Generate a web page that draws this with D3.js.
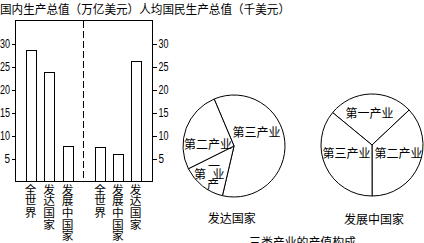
<!DOCTYPE html>
<html><head><meta charset="utf-8">
<script src="https://cdn.jsdelivr.net/npm/d3@7"></script>
<style>
html,body{margin:0;padding:0;background:#fff;}
svg{display:block;}
text{fill:#000;}
</style></head>
<body>
<svg id="c" width="424" height="243"></svg>
<script>
// ---- data ----
const titleText = "国内生产总值（万亿美元）人均国民生产总值（千美元）";
const leftCats = ["全世界", "发达国家", "发展中国家"];
const gdpValues = [28.6, 23.7, 7.7];          // 万亿美元
const rightCats = ["全世界", "发展中国家", "发达国家"];
const gnpPerCapita = [7.4, 5.9, 26.2];        // 千美元
const yTicks = [5, 10, 15, 20, 25, 30];

const sectors = ["第一产业", "第二产业", "第三产业"];
const developedShares = [14, 26, 60];
const developingShares = [27, 37, 36];
const pieCaptions = ["发达国家", "发展中国家"];
const bottomCaption = "三类产业的产值构成";

// ---- drawing ----
const svg = d3.select("#c");
const CJK = "'Noto Sans CJK SC','Noto Sans CJK JP',sans-serif";

svg.append("text").attr("x", 0).attr("y", 8)
  .attr("dominant-baseline", "central")
  .attr("font-family", CJK).attr("font-size", 12)
  .attr("textLength", 290).attr("lengthAdjust", "spacingAndGlyphs")
  .text(titleText);

const frameL = 15.5, frameR = 152.5, frameT = 20.5, frameB = 181.5;
const y = d3.scaleLinear().domain([0, 35]).range([frameB, frameT]);

const g = svg.append("g");

// frame
g.append("rect").attr("x", frameL).attr("y", frameT)
  .attr("width", frameR - frameL).attr("height", frameB - frameT)
  .attr("fill", "none").attr("stroke", "#000").attr("shape-rendering", "crispEdges");

// dashed divider
const xMid = 83.5;
g.append("line").attr("x1", xMid).attr("x2", xMid).attr("y1", frameT).attr("y2", frameB)
  .attr("stroke", "#000").attr("stroke-dasharray", "7,3").attr("shape-rendering", "crispEdges");

// axes
const axL = d3.axisLeft(y).tickValues(yTicks).tickSize(4).tickPadding(1.5);
const axR = d3.axisRight(y).tickValues(yTicks).tickSize(4).tickPadding(2);
const gL = g.append("g").attr("transform", `translate(${frameL},0)`).call(axL);
const gR = g.append("g").attr("transform", `translate(${frameR},0)`).call(axR);
[gL, gR].forEach(a => {
  a.select(".domain").remove();
  a.selectAll("line").attr("shape-rendering", "crispEdges");
  a.selectAll("text").attr("font-family", "'Liberation Sans',sans-serif").attr("font-size", 12)
    .attr("fill", "#000")
    .attr("textLength", d => d >= 10 ? 10 : 5.5).attr("lengthAdjust", "spacingAndGlyphs");
});

const xLeft = d3.scalePoint().domain(leftCats).range([30.5, 67.5]);
const xRight = d3.scalePoint().domain(rightCats).range([100, 135.5]);
const bw = 10;

function drawBars(cats, vals, xs) {
  g.selectAll(null).data(cats).enter().append("rect")
    .attr("x", d => Math.round(xs(d) - bw / 2) + 0.5)
    .attr("y", (d, i) => Math.round(y(vals[i])) + 0.5)
    .attr("width", bw)
    .attr("height", (d, i) => frameB - (Math.round(y(vals[i])) + 0.5))
    .attr("fill", "#fff").attr("stroke", "#000").attr("shape-rendering", "crispEdges");
  // vertical labels
  g.selectAll(null).data(cats).enter().append("text")
    .attr("x", d => xs(d)).attr("y", 183.3)
    .attr("writing-mode", "tb")
    .style("text-orientation", "upright")
    .attr("font-family", CJK).attr("font-size", 11.7)
    .text(d => d);
}
drawBars(leftCats, gdpValues, xLeft);
drawBars(rightCats, gnpPerCapita, xRight);

// ---- pies ----
const r = 51;
const arc = d3.arc().innerRadius(0).outerRadius(r);
function drawPie(cx, cy, shares, order, startDeg) {
  const pie = d3.pie().sort(null).value(d => d.v)
    .startAngle(startDeg * Math.PI / 180).endAngle(startDeg * Math.PI / 180 + 2 * Math.PI);
  const data = order.map(i => ({ name: sectors[i], v: shares[i] }));
  const pg = svg.append("g").attr("transform", `translate(${cx},${cy})`);
  pg.selectAll("path").data(pie(data)).enter().append("path")
    .attr("d", arc).attr("fill", "#fff").attr("stroke", "#000").attr("stroke-width", 1);
  return pg;
}
// developed: clockwise from top: 第三, 第一, 第二
drawPie(234, 146, developedShares, [2, 0, 1], -22.9);
// developing: clockwise from top-left: 第一, 第二, 第三
drawPie(372, 145, developingShares, [0, 1, 2], -50.5);

function label(txt, x, yy, anchor = "middle", size = 12) {
  svg.append("text").attr("x", x).attr("y", yy)
    .attr("text-anchor", anchor).attr("dominant-baseline", "central")
    .attr("font-family", CJK).attr("font-size", size).text(txt);
}
// developed pie labels
label(sectors[2], 256.5, 131);
label(sectors[1], 208, 143.5);
const s1 = Array.from(sectors[0]); // 第 一 产 业
label(s1[0], 200, 173);
label(s1[1], 214, 165);
label(s1[3], 218.5, 173);
label(s1[2], 213, 183);
// developing pie labels
label(sectors[0], 369.5, 112.5);
label(sectors[2], 346.5, 152);
label(sectors[1], 398.5, 152);

label(pieCaptions[0], 231.7, 217.7);
label(pieCaptions[1], 374, 218);
svg.append("text").attr("x", 249).attr("y", 241.5)
  .attr("dominant-baseline", "central").attr("font-family", CJK).attr("font-size", 12)
  .attr("textLength", 107).attr("lengthAdjust", "spacingAndGlyphs").text(bottomCaption);
</script>
</body></html>
